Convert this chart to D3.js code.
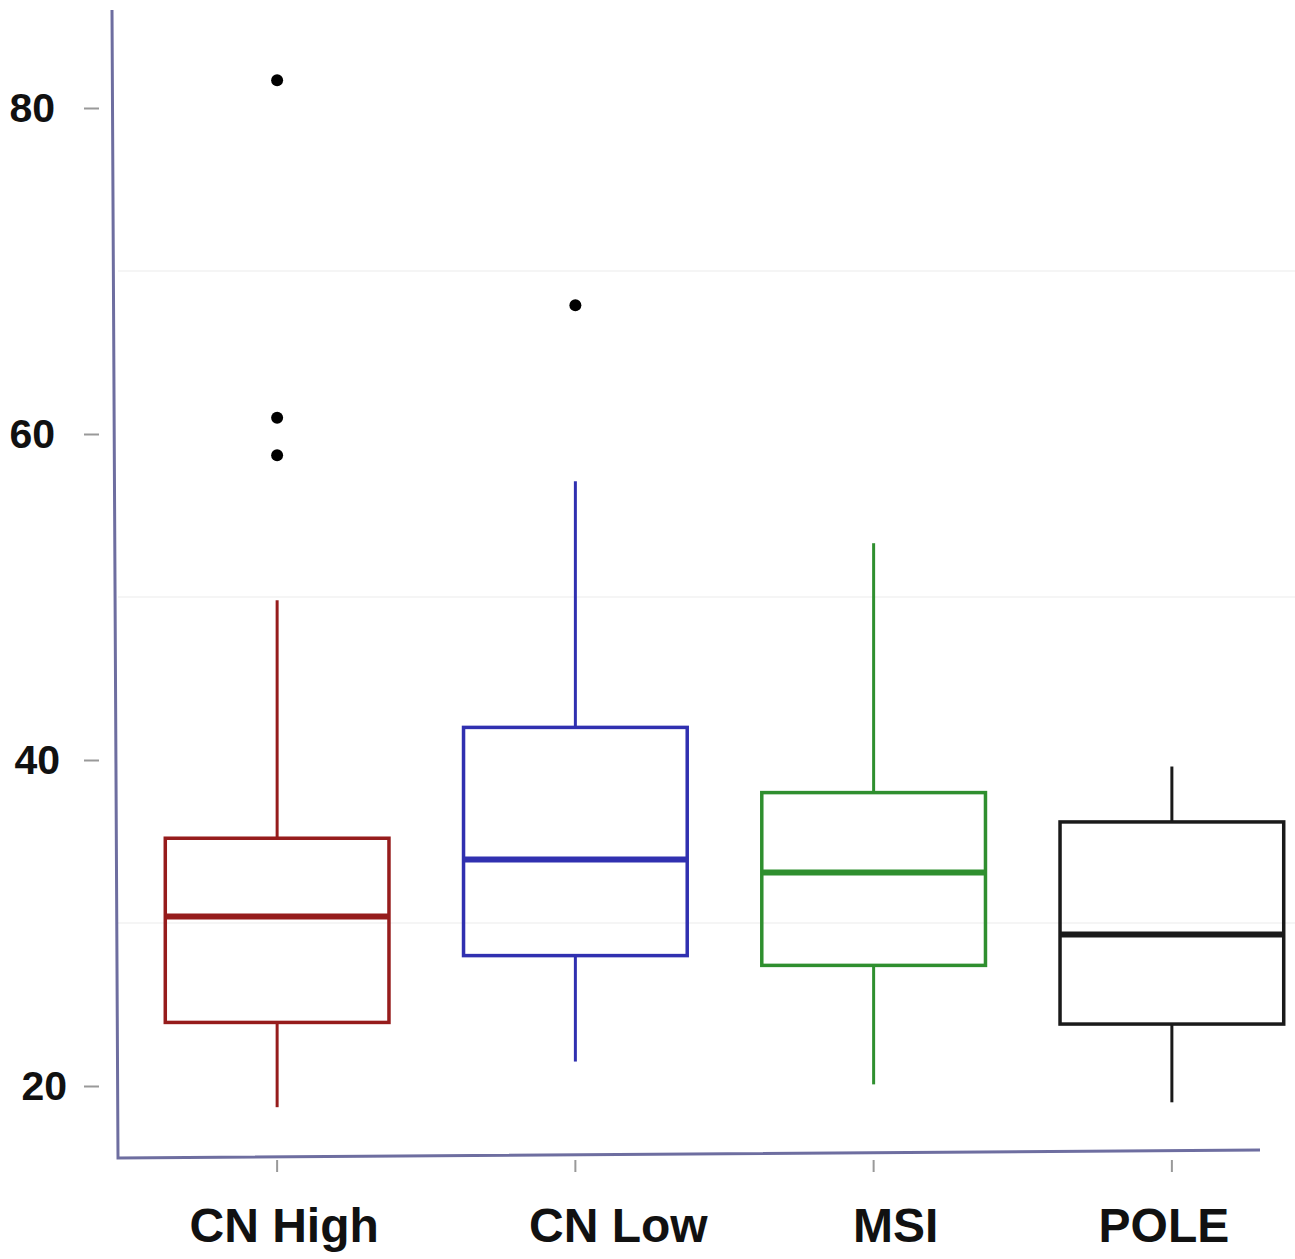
<!DOCTYPE html>
<html>
<head>
<meta charset="utf-8">
<script src="https://cdn.jsdelivr.net/npm/d3@7"></script>
<style>
  body { margin: 0; background: #fff; }
  text { font-family: "Liberation Sans", Arial, sans-serif; font-weight: bold; fill: #111; }
</style>
</head>
<body>
<div id="chart"></div>
<script>
// groups and their box stats
var groups   = ["CN High", "CN Low", "MSI", "POLE"];
var whiskLo  = [18.7, 21.5, 20.1, 19.0];
var q1       = [23.9, 28.0, 27.4, 23.8];
var median   = [30.4, 33.9, 33.1, 29.3];
var q3       = [35.2, 42.0, 38.0, 36.2];
var whiskHi  = [49.8, 57.1, 53.3, 39.6];
var outliers = [[81.7, 61.0, 58.7], [67.9], [], []];
var yTicks   = [20, 40, 60, 80];
var gridVals = [30, 50, 70];

var colors = ["#961c1c", "#3030b0", "#2f8f2f", "#1a1a1a"];
// the original labels sit a little off the tick marks
var labelShift = [7, 43, 22, -8];
var yLabelShift = {20: 12, 40: 5, 60: 0, 80: 0};

var width = 1295, height = 1259;

var svg = d3.select("#chart").append("svg")
    .attr("width", width)
    .attr("height", height);

var x = d3.scaleBand()
    .domain(groups)
    .range([128, 1321])
    .paddingInner(0.25)
    .paddingOuter(0.125);

var y = d3.scaleLinear()
    .domain([20, 80])
    .range([1086, 108]);

// faint grid
svg.selectAll(".grid")
    .data(gridVals)
    .enter().append("line")
    .attr("class", "grid")
    .attr("x1", 118).attr("x2", 1295)
    .attr("y1", function(d) { return y(d); })
    .attr("y2", function(d) { return y(d); })
    .attr("stroke", "#f5f5f5")
    .attr("stroke-width", 2);

// axis lines (slightly tilted like the original)
svg.append("path")
    .attr("d", "M112,10 L118,1158 L1260,1150")
    .attr("fill", "none")
    .attr("stroke", "#6e6ea0")
    .attr("stroke-width", 3);

// y axis
var yAxis = svg.append("g")
    .attr("transform", "translate(99,0)")
    .call(d3.axisLeft(y).tickValues(yTicks).tickSize(15).tickPadding(29));
yAxis.select(".domain").remove();
yAxis.selectAll(".tick line").attr("stroke", "#999").attr("stroke-width", 2);
yAxis.selectAll(".tick text")
    .style("font-size", "41px")
    .attr("fill", "#111")
    .attr("dx", function(d) { return yLabelShift[d]; });

// x axis
var xAxis = svg.append("g")
    .attr("transform", "translate(0,1160)")
    .call(d3.axisBottom(x).tickSize(12).tickPadding(36));
xAxis.select(".domain").remove();
xAxis.selectAll(".tick line").attr("stroke", "#999").attr("stroke-width", 2);
xAxis.selectAll(".tick text")
    .style("font-size", "48px")
    .attr("fill", "#111")
    .attr("dx", function(d, i) { return labelShift[i]; });

// boxes
var data = groups.map(function(g, i) {
    return {name: g, lo: whiskLo[i], q1: q1[i], med: median[i], q3: q3[i], hi: whiskHi[i], out: outliers[i], color: colors[i]};
});

var bw = x.bandwidth();

var box = svg.selectAll(".box")
    .data(data)
    .enter().append("g")
    .attr("class", "box")
    .attr("transform", function(d) { return "translate(" + x(d.name) + ",0)"; });

// whiskers
box.append("line")
    .attr("x1", bw / 2).attr("x2", bw / 2)
    .attr("y1", function(d) { return y(d.hi); })
    .attr("y2", function(d) { return y(d.q3); })
    .attr("stroke", function(d) { return d.color; })
    .attr("stroke-width", 3);
box.append("line")
    .attr("x1", bw / 2).attr("x2", bw / 2)
    .attr("y1", function(d) { return y(d.q1); })
    .attr("y2", function(d) { return y(d.lo); })
    .attr("stroke", function(d) { return d.color; })
    .attr("stroke-width", 3);

box.append("rect")
    .attr("x", 0)
    .attr("width", bw)
    .attr("y", function(d) { return y(d.q3); })
    .attr("height", function(d) { return y(d.q1) - y(d.q3); })
    .attr("fill", "none")
    .attr("stroke", function(d) { return d.color; })
    .attr("stroke-width", 3.5);

box.append("line")
    .attr("x1", 0).attr("x2", bw)
    .attr("y1", function(d) { return y(d.med); })
    .attr("y2", function(d) { return y(d.med); })
    .attr("stroke", function(d) { return d.color; })
    .attr("stroke-width", 6);

// outliers
box.selectAll(".out")
    .data(function(d) { return d.out; })
    .enter().append("circle")
    .attr("class", "out")
    .attr("cx", bw / 2)
    .attr("cy", function(d) { return y(d); })
    .attr("r", 6)
    .attr("fill", "#000");
</script>
</body>
</html>
